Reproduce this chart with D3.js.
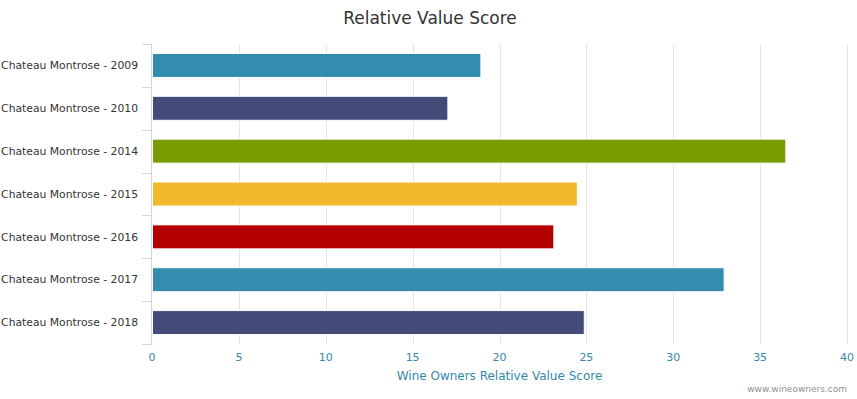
<!DOCTYPE html>
<html><head><meta charset="utf-8">
<script src="https://cdn.jsdelivr.net/npm/d3@7"></script>
<style>body{margin:0;background:#fff}svg{display:block}text{font-family:"DejaVu Sans",sans-serif}</style>
</head><body><svg id="c" width="857" height="399"></svg>
<script>
const categories = ["Chateau Montrose - 2009","Chateau Montrose - 2010","Chateau Montrose - 2014","Chateau Montrose - 2015","Chateau Montrose - 2016","Chateau Montrose - 2017","Chateau Montrose - 2018"];
const values = [18.9, 17.0, 36.45, 24.45, 23.1, 32.9, 24.85];
const colors = ["#348dae","#434b79","#7a9c00","#f0b92e","#b50000","#348dae","#434b79"];
const xTicks = [0,5,10,15,20,25,30,35,40];
const title = "Relative Value Score";
const xTitle = "Wine Owners Relative Value Score";
const credit = "www.wineowners.com";

const svg = d3.select("#c");
const L = 152, R = 847, T = 44, B = 344;
const x = d3.scaleLinear().domain([0,40]).range([L,R]);
const y = d3.scaleBand().domain(categories).range([T,B]).paddingInner(0.44).paddingOuter(0.22);

// grid
svg.append("g").selectAll("line").data(xTicks.slice(1)).join("line")
  .attr("x1",d=>Math.round(x(d))+0.5).attr("x2",d=>Math.round(x(d))+0.5)
  .attr("y1",T).attr("y2",B).attr("stroke","#e6e6e6").attr("stroke-width",1);

// bars
svg.append("g").selectAll("rect").data(values).join("rect")
  .attr("x",x(0)+0.5).attr("y",(d,i)=>y(categories[i]))
  .attr("width",d=>x(d)-x(0)).attr("height",y.bandwidth())
  .attr("fill",(d,i)=>colors[i]).attr("stroke","#fff").attr("stroke-width",1);

// y axis line and ticks
const band = (B-T)/categories.length;
svg.append("line").attr("x1",L-0.5).attr("x2",L-0.5).attr("y1",T).attr("y2",B).attr("stroke","#ccd6eb");
svg.append("g").selectAll("line").data(d3.range(categories.length+1)).join("line")
  .attr("x1",L-10).attr("x2",L).attr("y1",i=>Math.round(T+i*band)+0.5).attr("y2",i=>Math.round(T+i*band)+0.5)
  .attr("stroke","#ccd6eb");

// y labels
const labels = svg.append("g").selectAll("text").data(categories).join("text")
  .attr("x",138).attr("y",d=>y(d)+y.bandwidth()/2).attr("dy","0.35em")
  .attr("text-anchor","end").attr("font-size","11px").attr("fill","#333").text(d=>d);
let maxW = 0; labels.each(function(){ maxW = Math.max(maxW, this.getComputedTextLength()); });
if (maxW > 137) labels.attr("font-size", (11*137/maxW).toFixed(2)+"px");

// x tick labels
svg.append("g").selectAll("text").data(xTicks).join("text")
  .attr("x",d=>x(d)).attr("y",361).attr("text-anchor","middle")
  .attr("font-size","11px").attr("fill","#3488ae").text(d=>d);

// x title
svg.append("text").attr("x",(L+R)/2).attr("y",380).attr("text-anchor","middle")
  .attr("font-size","12px").attr("fill","#3488ae").text(xTitle);

// title
svg.append("text").attr("x",430).attr("y",24).attr("text-anchor","middle")
  .attr("font-size","17px").attr("fill","#333").text(title);

// credit
svg.append("text").attr("x",847).attr("y",392).attr("text-anchor","end")
  .attr("font-size","9px").attr("fill","#909090").text(credit);
</script></body></html>
